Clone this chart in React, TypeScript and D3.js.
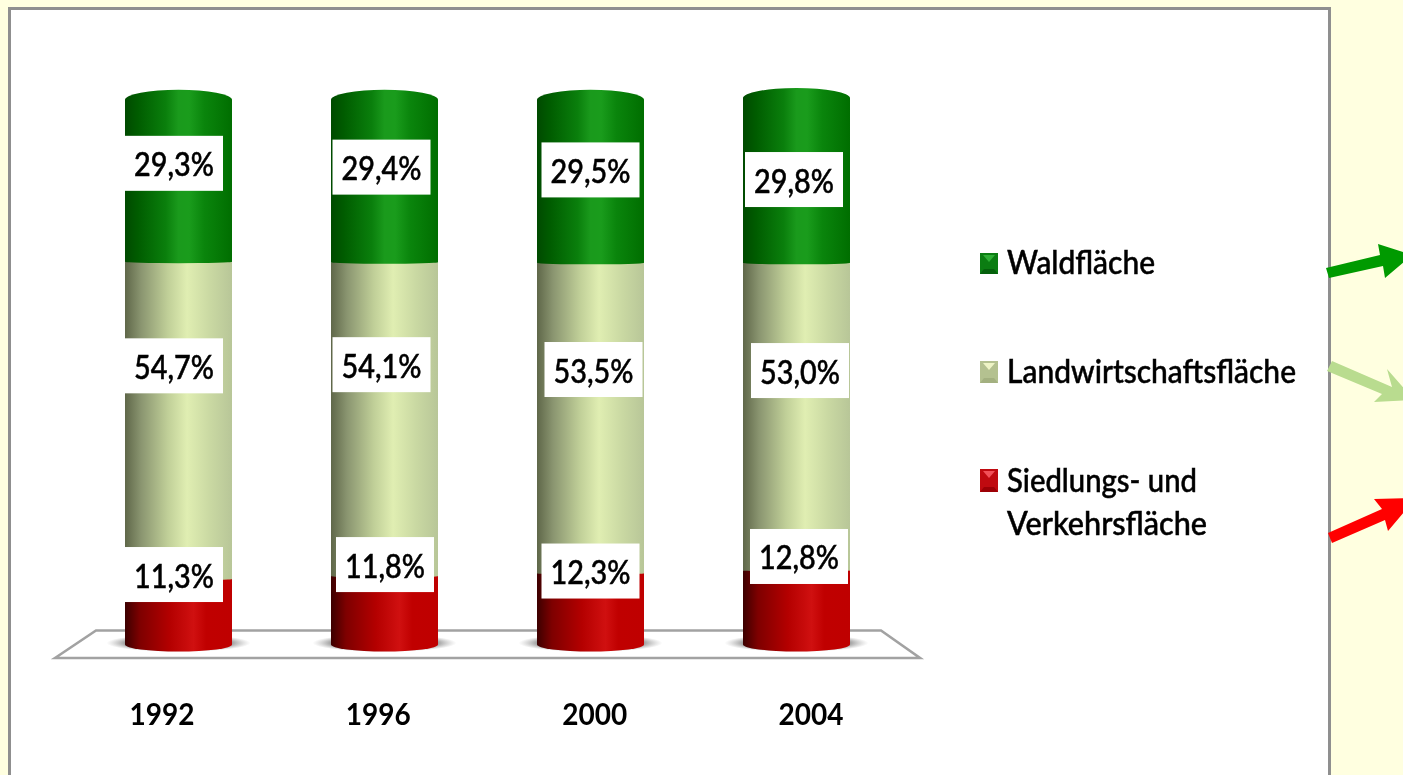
import React from "react";
import * as d3 from "d3";

// ---- data ----
const years = ["1992", "1996", "2000", "2004"];
const siedlung = [11.3, 11.8, 12.3, 12.8];
const landwirtschaft = [54.7, 54.1, 53.5, 53.0];
const wald = [29.3, 29.4, 29.5, 29.8];
const legendLabels = [["Waldfläche"], ["Landwirtschaftsfläche"], ["Siedlungs- und", "Verkehrsfläche"]];

// ---- layout: hand placement of value labels relative to their segments [dx, dy] ----
const nudgeSiedlung = [[-4.5, -37.2], [0.5, -45.7], [0, -37.8], [2.5, -50.9]];
const nudgeLand = [[-4.5, -54.5], [-3, -54.5], [3, -48.5], [3.5, -46]];
const nudgeWald = [[-4.5, -13.4], [-3, -9.9], [0, -7.4], [-2.5, 3.1]];

const W = 1403, H = 775;
const barW = 107, capRy = 10, baseRy = 7, seamRy = 1.5;
const labelW = 98, labelH = 55;
const FONT = "Lato, 'Open Sans', sans-serif";

const x = d3.scalePoint<string>().domain(years).range([178.5, 796.5]);
const xTick = d3.scalePoint<string>().domain(years).range([162, 811]);
const y = d3.scaleLinear().domain([0, 100]).range([644.5, 64.5]);

const fmt = (v: number) => d3.format(".1f")(v).replace(".", ",") + "%";

const series = [
  { key: "siedlung", values: siedlung, nudge: nudgeSiedlung, grad: "gRed" },
  { key: "land", values: landwirtschaft, nudge: nudgeLand, grad: "gLand" },
  { key: "wald", values: wald, nudge: nudgeWald, grad: "gGreen" },
];

const stacked = d3.stack<number>()
  .keys(["0", "1", "2"])
  .value((i, k) => series[+k].values[i])(years.map((_, i) => i));

function segPath(cx: number, y0: number, y1: number, topRy: number, bottomRy: number) {
  const l = cx - barW / 2, r = cx + barW / 2, a = barW / 2;
  const top = `A${a},${Math.max(topRy, 0.01)} 0 0 1 ${r},${y0}`;
  const bottom = `A${a},${Math.max(bottomRy, 0.01)} 0 0 1 ${l},${y1}`;
  return `M${l},${y1}L${l},${y0}${top}L${r},${y1}${bottom}Z`;
}

function Grad({ id, stops }: { id: string; stops: [number, string][] }) {
  return (
    <linearGradient id={id} x1="0" x2="1" y1="0" y2="0">
      {stops.map(([o, c]) => <stop key={o} offset={o} stopColor={c} />)}
    </linearGradient>
  );
}

const legendRows = [
  { top: 253, h: 21, base: "#0b7d12", dark: "#05600c", light: "#2fae35", baselines: [274], lengths: [148] },
  { top: 361, h: 22, base: "#b4c190", dark: "#a3b080", light: "#eef4c6", baselines: [383], lengths: [289] },
  { top: 469, h: 23, base: "#c00a10", dark: "#9c0006", light: "#f25058", baselines: [492, 535], lengths: [190, 200] },
];

const arrows = [
  { fill: "#009a00", pts: "1326,268 1380,255 1378,244 1412,255 1385,278 1383,266 1329,278" },
  { fill: "#b9dc8f", pts: "1332,361 1392,387 1387,369 1414,400 1374,402 1382,394 1327,371" },
  { fill: "#ff0000", pts: "1328,533 1382,509 1374,499 1416,498 1388,531 1385,520 1332,543" },
];

export default function App() {
  return (
    <svg width={W} height={H} viewBox={`0 0 ${W} ${H}`} style={{ position: "fixed", left: 0, top: 0, display: "block" }}>
      <defs>
        <Grad id="gGreen" stops={[[0, "#004a00"], [0.12, "#005c00"], [0.38, "#0a7f0c"], [0.5, "#1a9a1c"], [0.6, "#1a9c1c"], [0.74, "#0a850c"], [1, "#006e00"]]} />
        <Grad id="gLand" stops={[[0, "#5f6749"], [0.15, "#8a9570"], [0.4, "#c0cf98"], [0.58, "#e0eeb2"], [0.8, "#c9d8a2"], [1, "#b8c698"]]} />
        <Grad id="gRed" stops={[[0, "#3c0000"], [0.14, "#7e0000"], [0.42, "#b40000"], [0.64, "#d01010"], [0.76, "#c00000"], [1, "#bf0000"]]} />
        <radialGradient id="gShadow">
          <stop offset="0.62" stopColor="#5c5c5c" />
          <stop offset="1" stopColor="#a0a0a0" stopOpacity="0" />
        </radialGradient>
        <filter id="soft" x="-5%" y="-20%" width="110%" height="140%">
          <feGaussianBlur stdDeviation="0.5" />
        </filter>
      </defs>

      <rect x={0} y={0} width={W} height={H} fill="#ffffe0" />
      <rect x={9.5} y={8.5} width={1320} height={H + 20} fill="#fff" stroke="#8f8f8f" strokeWidth={3} />

      {/* floor */}
      <path d="M55,658 L96,630.5 L881,630.5 L920,658 Z" fill="#fff" stroke="#a2a2a2" strokeWidth={2.6} strokeLinejoin="miter" />

      {/* shadows */}
      {years.map((yr) => (
        <ellipse key={yr} cx={x(yr)!} cy={643} rx={72} ry={9} fill="url(#gShadow)" />
      ))}

      {/* cylinders */}
      {years.map((yr, i) =>
        stacked.map((layer, s) => {
          const [v0, v1] = layer[i];
          const isTop = s === stacked.length - 1;
          const edgeTop = y(v1) + (isTop ? 8 : 0);
          return (
            <path
              key={yr + s}
              d={segPath(x(yr)!, edgeTop, y(v0), isTop ? capRy : seamRy, s === 0 ? baseRy : seamRy)}
              fill={`url(#${series[s].grad})`}
            />
          );
        })
      )}

      {/* value labels */}
      {years.map((yr, i) =>
        stacked.map((layer, s) => {
          const [v0, v1] = layer[i];
          const [dx, dy] = series[s].nudge[i];
          const cx = x(yr)! + dx;
          const cy = (y(v0) + y(v1)) / 2 + dy;
          return (
            <g key={yr + s}>
              <rect x={cx - labelW / 2} y={cy - labelH / 2} width={labelW} height={labelH} fill="#fff" />
              <text x={cx} y={cy + 13} textAnchor="middle" fontFamily={FONT} fontSize={32} fontWeight={500} fill="#000" stroke="#000" strokeWidth={0.5}
                textLength={80} lengthAdjust="spacingAndGlyphs" filter="url(#soft)">
                {fmt(series[s].values[i])}
              </text>
            </g>
          );
        })
      )}

      {/* category labels */}
      {years.map((yr) => (
        <text key={yr} x={xTick(yr)!} y={725} textAnchor="middle" fontFamily={FONT} fontSize={31} fontWeight={700} fill="#000"
          textLength={65} lengthAdjust="spacingAndGlyphs" filter="url(#soft)">
          {yr}
        </text>
      ))}

      {/* legend */}
      {legendRows.map((r, i) => {
        const l = 980, rr = 998, b = r.top + r.h;
        return (
          <g key={i}>
            <rect x={l} y={r.top} width={rr - l} height={r.h} fill={r.base} />
            <path d={`M${l},${b} L${l + 4},${b - 5} L${rr - 4},${b - 5} L${rr},${b} Z`} fill={r.dark} />
            <path d={`M${l + 3},${r.top + 2} L${rr - 3},${r.top + 2} L${(l + rr) / 2},${r.top + 9} Z`} fill={r.light} />
            {legendLabels[i].map((t, j) => (
              <text key={t} x={1007} y={r.baselines[j]} fontFamily={FONT} fontSize={32} fontWeight={500} fill="#000" stroke="#000" strokeWidth={0.5}
                textLength={r.lengths[j]} lengthAdjust="spacingAndGlyphs" filter="url(#soft)">
                {t}
              </text>
            ))}
          </g>
        );
      })}

      {/* arrows */}
      {arrows.map((a) => <polygon key={a.fill} points={a.pts} fill={a.fill} />)}
    </svg>
  );
}
